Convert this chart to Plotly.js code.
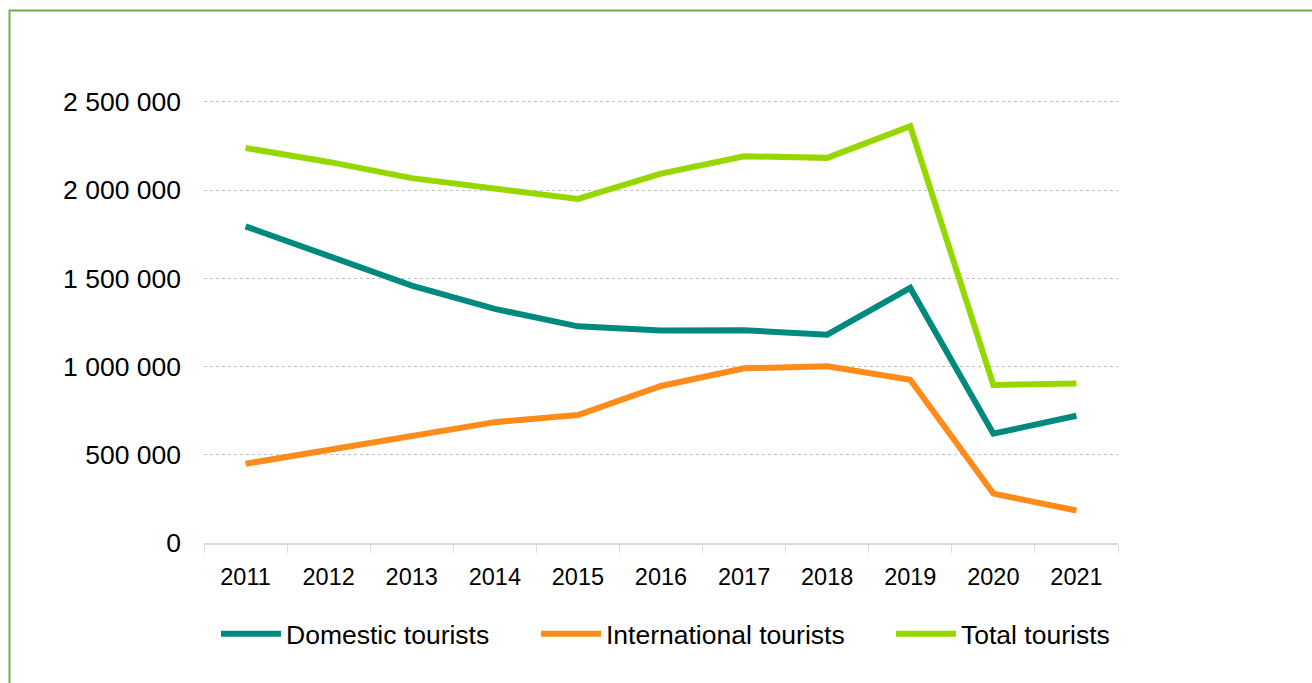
<!DOCTYPE html>
<html>
<head>
<meta charset="utf-8">
<script src="https://cdn.plot.ly/plotly-3.0.1.min.js"></script>
<style>
  html, body { margin: 0; padding: 0; background: #ffffff; }
  #chart { width: 1312px; height: 683px; }
</style>
</head>
<body>
<div id="chart"></div>
<script>
const years = ['2011','2012','2013','2014','2015','2016','2017','2018','2019','2020','2021'];
const domestic = [1795000, 1625000, 1459000, 1327000, 1228000, 1204000, 1206000, 1181000, 1446000, 620000, 721000];
const international = [449000, 530000, 609000, 685000, 725000, 890000, 990000, 1002000, 925000, 280000, 184000];
const total = [2239000, 2160000, 2068000, 2012000, 1950000, 2094000, 2192000, 2183000, 2362000, 896000, 904000];
const seriesNames = ['Domestic tourists', 'International tourists', 'Total tourists'];
const yTickVals = [0, 500000, 1000000, 1500000, 2000000, 2500000];

const colors = ['#00897F', '#FF8C1A', '#97D700'];
const fam = 'Liberation Sans, Arial, sans-serif';
const yFont = {family: fam, size: 26.5, color: '#000000'};
const xFont = {family: fam, size: 23.5, color: '#000000'};
const legendFont = {family: fam, size: 26.5, color: '#000000'};
const legendIds = ['legend', 'legend2', 'legend3'];

const traces = [domestic, international, total].map((vals, i) => ({
  type: 'scatter',
  mode: 'lines',
  x: years,
  y: vals,
  name: seriesNames[i],
  legend: legendIds[i],
  line: {color: colors[i], width: 6},
  hoverinfo: 'skip'
}));

const L = 204, R = 194, T = 100, B = 140;
const W = 1312, H = 683;
const pw = W - L - R, ph = H - T - B;
function px2x(px) { return (px - L) / pw; }
function py2y(py) { return (H - B - py) / ph; }

function legendAt(px) {
  return {
    orientation: 'h',
    xref: 'container', yref: 'container',
    x: px / W, xanchor: 'left',
    y: (H - 634) / H, yanchor: 'middle',
    font: legendFont,
    itemwidth: 60,
    bgcolor: 'rgba(0,0,0,0)',
    borderwidth: 0
  };
}

const layout = {
  width: W, height: H,
  margin: {l: L, r: R, t: T, b: B, pad: 0},
  paper_bgcolor: '#ffffff',
  plot_bgcolor: '#ffffff',
  separators: '. ',
  font: legendFont,
  showlegend: true,
  legend: legendAt(216),
  legend2: legendAt(536),
  legend3: legendAt(891),
  xaxis: {
    type: 'category',
    range: [-0.5, years.length - 0.5],
    tickson: 'boundaries',
    ticks: 'outside',
    ticklen: 8,
    tickwidth: 1,
    tickcolor: '#D9D9D9',
    showline: true,
    linecolor: '#D9D9D9',
    linewidth: 2,
    showgrid: false,
    zeroline: false,
    tickfont: xFont,
    ticklabelstandoff: 12,
    fixedrange: true
  },
  yaxis: {
    range: [0, 2511000],
    tickvals: yTickVals,
    tickformat: ',d',
    showline: false,
    showgrid: true,
    gridcolor: '#BFBFBF',
    gridwidth: 1,
    griddash: 'dot',
    zeroline: false,
    ticks: '',
    tickfont: yFont,
    ticklabelstandoff: 22,
    fixedrange: true
  },
  shapes: [{
    type: 'rect', xref: 'paper', yref: 'paper',
    x0: px2x(9.5), x1: px2x(1330),
    y0: py2y(700), y1: py2y(10.5),
    line: {color: '#77AC4B', width: 2},
    fillcolor: 'rgba(0,0,0,0)',
    layer: 'below'
  }]
};

Plotly.newPlot('chart', traces, layout, {displayModeBar: false, staticPlot: true});
</script>
</body>
</html>
